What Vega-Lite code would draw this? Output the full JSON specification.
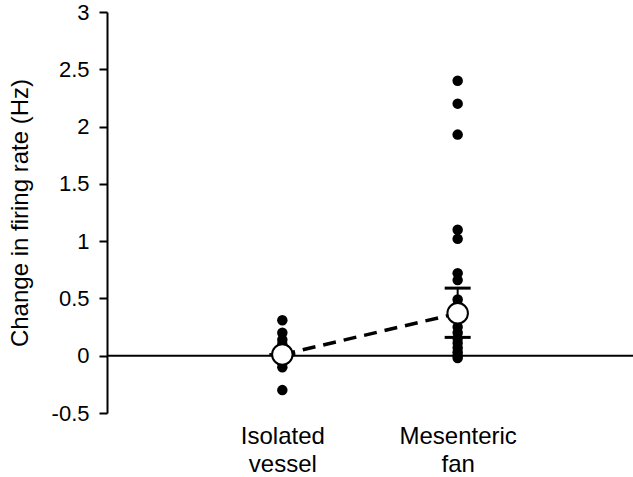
{
  "$schema": "https://vega.github.io/schema/vega-lite/v6.json",
  "width": 526,
  "height": 401,
  "autosize": {"type": "none"},
  "padding": {"left": 107, "top": 12, "right": 0, "bottom": 64},
  "background": "white",
  "config": {
    "view": {"stroke": null},
    "font": "Liberation Sans"
  },
  "datasets": {
    "points": [
      {"group": "Isolated vessel", "value": 0.31},
      {"group": "Isolated vessel", "value": 0.2},
      {"group": "Isolated vessel", "value": 0.14},
      {"group": "Isolated vessel", "value": 0.1},
      {"group": "Isolated vessel", "value": -0.06},
      {"group": "Isolated vessel", "value": -0.1},
      {"group": "Isolated vessel", "value": -0.3},
      {"group": "Mesenteric fan", "value": 2.4},
      {"group": "Mesenteric fan", "value": 2.2},
      {"group": "Mesenteric fan", "value": 1.93},
      {"group": "Mesenteric fan", "value": 1.1},
      {"group": "Mesenteric fan", "value": 1.02},
      {"group": "Mesenteric fan", "value": 0.72},
      {"group": "Mesenteric fan", "value": 0.66},
      {"group": "Mesenteric fan", "value": 0.49},
      {"group": "Mesenteric fan", "value": 0.44},
      {"group": "Mesenteric fan", "value": 0.25},
      {"group": "Mesenteric fan", "value": 0.2},
      {"group": "Mesenteric fan", "value": 0.15},
      {"group": "Mesenteric fan", "value": 0.11},
      {"group": "Mesenteric fan", "value": 0.07},
      {"group": "Mesenteric fan", "value": 0.03},
      {"group": "Mesenteric fan", "value": 0.0},
      {"group": "Mesenteric fan", "value": -0.02}
    ],
    "means": [
      {"group": "Isolated vessel", "mean": 0.01, "lo": 0.01, "hi": 0.01},
      {"group": "Mesenteric fan", "mean": 0.37, "lo": 0.16, "hi": 0.59}
    ],
    "zero": [{"y": 0}]
  },
  "layer": [
    {
      "data": {"name": "zero"},
      "mark": {"type": "rule", "color": "black", "strokeWidth": 2},
      "encoding": {"y": {"field": "y", "type": "quantitative"}}
    },
    {
      "data": {"name": "points"},
      "mark": {"type": "circle", "color": "black", "opacity": 1, "size": 110},
      "encoding": {
        "x": {
          "field": "group",
          "type": "nominal",
          "sort": ["Isolated vessel", "Mesenteric fan"],
          "scale": {"type": "point", "padding": 1.02},
          "axis": {
            "title": null,
            "domain": false,
            "ticks": false,
            "labelAngle": 0,
            "labelFontSize": 24,
            "labelColor": "black",
            "labelPadding": 11,
            "labelLineHeight": 28,
            "labelExpr": "split(datum.label, ' ')"
          }
        },
        "y": {
          "field": "value",
          "type": "quantitative",
          "scale": {"domain": [-0.5, 3], "nice": false, "zero": false},
          "axis": {
            "title": "Change in firing rate (Hz)",
            "titleFontSize": 24,
            "titleFontWeight": "normal",
            "titleColor": "black",
            "titlePadding": 19,
            "values": [-0.5, 0, 0.5, 1, 1.5, 2, 2.5, 3],
            "grid": false,
            "domainColor": "black",
            "domainWidth": 2,
            "tickColor": "black",
            "tickWidth": 2,
            "tickSize": 8,
            "labelFontSize": 22,
            "labelColor": "black",
            "labelPadding": 10,
            "labelExpr": "datum.value"
          }
        }
      }
    },
    {
      "data": {"name": "means"},
      "mark": {"type": "rule", "color": "black", "strokeWidth": 2},
      "encoding": {
        "x": {"field": "group", "type": "nominal"},
        "y": {"field": "lo", "type": "quantitative"},
        "y2": {"field": "hi"}
      }
    },
    {
      "data": {"name": "means"},
      "mark": {"type": "tick", "color": "black", "opacity": 1, "thickness": 3, "size": 26, "orient": "horizontal"},
      "encoding": {
        "x": {"field": "group", "type": "nominal"},
        "y": {"field": "lo", "type": "quantitative"}
      }
    },
    {
      "data": {"name": "means"},
      "transform": [{"filter": "datum.group == 'Mesenteric fan'"}],
      "mark": {"type": "tick", "color": "black", "opacity": 1, "thickness": 3, "size": 26, "orient": "horizontal"},
      "encoding": {
        "x": {"field": "group", "type": "nominal"},
        "y": {"field": "hi", "type": "quantitative"}
      }
    },
    {
      "data": {"name": "means"},
      "mark": {"type": "line", "color": "black", "strokeWidth": 3.5, "strokeDash": [13, 8]},
      "encoding": {
        "x": {"field": "group", "type": "nominal"},
        "y": {"field": "mean", "type": "quantitative"}
      }
    },
    {
      "data": {"name": "means"},
      "mark": {"type": "point", "shape": "circle", "filled": true, "fill": "white", "stroke": "black", "strokeWidth": 2, "opacity": 1, "size": 420},
      "encoding": {
        "x": {"field": "group", "type": "nominal"},
        "y": {"field": "mean", "type": "quantitative"}
      }
    }
  ]
}
